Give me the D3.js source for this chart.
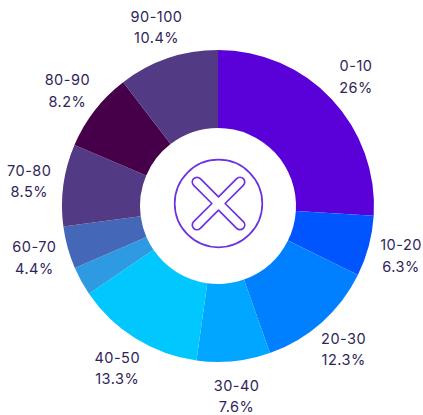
<!DOCTYPE html>
<html><head><meta charset="utf-8">
<script src="https://cdn.jsdelivr.net/npm/d3@7/dist/d3.min.js"></script>
<style>html,body{margin:0;padding:0;background:#fff}svg{display:block}</style>
</head><body><svg id="c" width="423" height="415"></svg>
<script>
const categories=["0-10","10-20","20-30","30-40","40-50","50-60","60-70","70-80","80-90","90-100"];
const shares=[26,6.3,12.3,7.6,13.3,3.0,4.4,8.5,8.2,10.4];
const shareLabels=["26%","6.3%","12.3%","7.6%","13.3%","","4.4%","8.5%","8.2%","10.4%"];
const colors=["#5a00d8","#0055ff","#0080ff","#00a6ff","#00c8ff","#2e9ae2","#4567b8","#533a84","#46004a","#533a84"];
const W=423,H=415,cx=218,cy=206,R=156,r0=78,rL=190;
const svg=d3.select("#c");
const idx=categories.map((_,i)=>i);
const arcs=d3.pie().value(i=>shares[i]).sort(null)(idx);
const arc=d3.arc().innerRadius(r0).outerRadius(R);
const labelArc=d3.arc().innerRadius(rL).outerRadius(rL);
const g=svg.append("g").attr("transform",`translate(${cx},${cy})`);
g.selectAll("path.s").data(arcs).join("path").attr("class","s").attr("d",arc).attr("fill",d=>colors[d.data]);
const lab=g.selectAll("text").data(arcs.filter(d=>shareLabels[d.data])).join("text")
 .attr("text-anchor","middle").attr("fill","#2f2559")
 .style("font-family","Inter, 'Open Sans', sans-serif").style("font-size","14.5px").style("font-weight",400).style("letter-spacing","0.5px")
 .attr("transform",d=>{const c=labelArc.centroid(d);return `translate(${c[0]-0.5},${c[1]+1.5})`;});
lab.append("tspan").attr("x",0).attr("y",-6).text(d=>categories[d.data]);
lab.append("tspan").attr("x",0).attr("y",15.5).text(d=>shareLabels[d.data]);
// centre icon
const icon=svg.append("g").attr("transform",`translate(218.5,203.5)`).attr("fill","none").attr("stroke","#6a32e0").attr("stroke-width",1.7);
icon.append("circle").attr("r",43.8);
const L=30.4,w=4.7;
let p="";
[0,90,180,270].forEach(a=>{
  const t=a*Math.PI/180,rot=(x,y)=>[x*Math.cos(t)-y*Math.sin(t),x*Math.sin(t)+y*Math.cos(t)];
  const A=rot(w,-w),B=rot(L,-w),C=rot(L,w);
  p+=(a?"L":"M")+A+"L"+B+"A"+w+" "+w+" 0 0 1 "+C;
});
icon.append("path").attr("d",p+"Z").attr("transform","rotate(45)").attr("stroke-linejoin","round");
</script></body></html>
